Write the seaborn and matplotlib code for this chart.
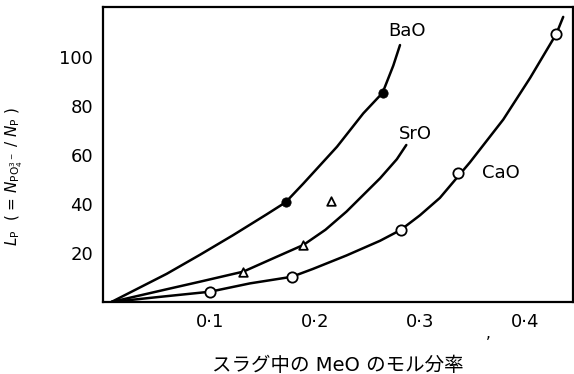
import matplotlib
matplotlib.use('Agg')
import matplotlib.pyplot as plt
import seaborn as sns

sns.set_style(style='white')
plt.rcParams['font.family'] = ['DejaVu Sans', 'Noto Sans CJK JP']
plt.rcParams['text.color'] = 'black'
plt.rcParams['axes.labelcolor'] = 'black'
plt.rcParams['xtick.color'] = 'black'
plt.rcParams['ytick.color'] = 'black'

# curves (mole fraction of MeO, Lp)
bao_curve_x = [0.006, 0.0587, 0.0905, 0.122, 0.154, 0.172, 0.189, 0.221, 0.246, 0.2644, 0.2746, 0.281]
bao_curve_y = [0, 11.5, 19.3, 27.3, 35.8, 40.7, 48.4, 63.4, 77, 85.4, 96.5, 104.9]
sro_curve_x = [0.006, 0.0587, 0.0905, 0.1317, 0.16, 0.189, 0.21, 0.23, 0.262, 0.278, 0.287]
sro_curve_y = [0, 5.2, 8.3, 12.4, 17.8, 23.3, 29.5, 36.9, 50.5, 58.3, 64.1]
cao_curve_x = [0.006, 0.05, 0.1, 0.138, 0.178, 0.198, 0.23, 0.262, 0.2816, 0.30, 0.319,
               0.3476, 0.3794, 0.405, 0.43, 0.4365]
cao_curve_y = [0, 2.0, 4.2, 7.6, 10.3, 13.5, 19.0, 25.0, 29.4, 35.4, 42.5,
               57, 74.5, 91.5, 109.5, 116.4]

# measured points
bao_x = [0.172, 0.2644]
bao_y = [40.7, 85.4]
sro_x = [0.1317, 0.189, 0.215]
sro_y = [12.4, 23.3, 41.2]
cao_x = [0.1, 0.178, 0.2816, 0.3365, 0.430]
cao_y = [4.2, 10.3, 29.4, 52.8, 109.5]

xticks = [0.1, 0.2, 0.3, 0.4]
xtick_labels = ['0·1', '0·2', '0·3', '0·4']
yticks = [20, 40, 60, 80, 100]

fig = plt.figure(figsize=(5.74, 3.74), dpi=100)
ax = fig.add_axes([0.1794, 0.1925, 0.8186, 0.7885])

for cx, cy in [(bao_curve_x, bao_curve_y), (sro_curve_x, sro_curve_y), (cao_curve_x, cao_curve_y)]:
    sns.lineplot(x=cx, y=cy, ax=ax, color='black', lw=1.8, sort=False, estimator=None,
                 solid_joinstyle='round', solid_capstyle='round')

sns.scatterplot(x=bao_x, y=bao_y, ax=ax, marker='o', s=45, color='black', edgecolor='black', zorder=5)
sns.scatterplot(x=sro_x, y=sro_y, ax=ax, marker='^', s=38, facecolor='white', edgecolor='black', linewidth=1.3, zorder=5)
sns.scatterplot(x=cao_x, y=cao_y, ax=ax, marker='o', s=55, facecolor='white', edgecolor='black', linewidth=1.3, zorder=5)

ax.text(0.288, 110.6, 'BaO', fontsize=13, ha='center', va='center')
ax.text(0.296, 68.6, 'SrO', fontsize=13, ha='center', va='center')
ax.text(0.377, 52.6, 'CaO', fontsize=13, ha='center', va='center')

ax.set_xlim(-0.002, 0.4457)
ax.set_ylim(0, 120.4)
ax.set_xticks(xticks)
ax.set_xticklabels(xtick_labels)
ax.set_yticks(yticks)
ax.tick_params(axis='both', direction='in', length=8, width=1.3, labelsize=13, color='black',
               labelcolor='black')
ax.tick_params(axis='x', pad=8)
ax.tick_params(axis='y', pad=7)
for sp in ax.spines.values():
    sp.set_linewidth(1.6)
    sp.set_color('black')

ax.set_xlabel('スラグ中の MeO のモル分率', fontsize=14)
ax.set_ylabel(r'$L_{\rm P}$  ( = $N_{{\rm PO}_4^{3-}}$ / $N_{\rm P}$ )', fontsize=11)
ax.yaxis.set_label_coords(-0.166, 0.427)
ax.xaxis.set_label_coords(0.5, -0.183)

fig.text(0.85, 0.095, ',', fontsize=11, ha='center')

fig.savefig('out.png', dpi=100)
plt.close(fig)
